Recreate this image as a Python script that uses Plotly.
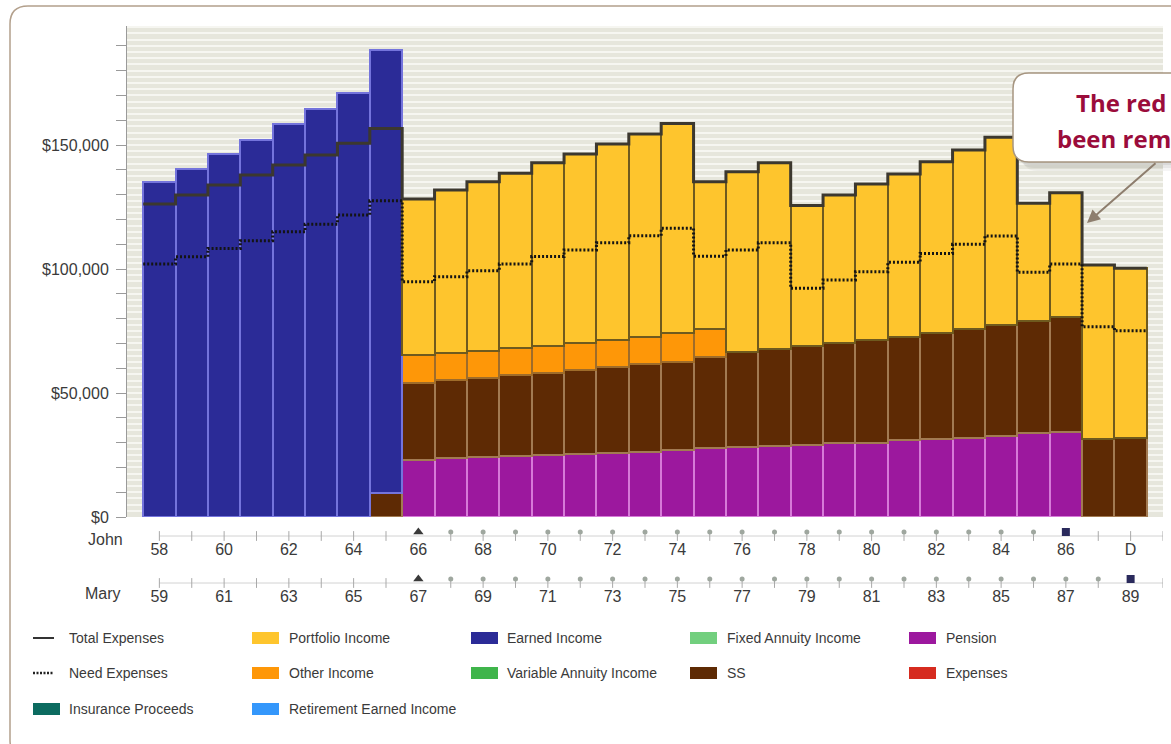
import plotly.graph_objects as go

W, H = 1171, 744

# ---------------------------------------------------------------- data ----
# one bar per plan year; index 0 = John 58 / Mary 59 (values in $ thousands)
john_ages = list(range(58, 89))
n_years = len(john_ages)

earned = [135.0, 140.5, 146.5, 152.0, 158.5, 164.5, 170.8, 178.8] + [None] * 23
pension = [None] * 8 + [23.0, 23.7, 24.1, 24.6, 25.0, 25.4, 25.9, 26.3, 27.0, 27.7,
                        28.1, 28.6, 29.0, 29.7, 30.0, 31.0, 31.5, 32.0, 32.7, 33.7, 34.4,
                        None, None]
ss = [None] * 7 + [9.5] + [31.2, 31.5, 31.8, 32.7, 33.2, 33.9, 34.7, 35.4, 35.6, 36.7,
                           38.6, 39.0, 40.0, 40.3, 41.4, 41.5, 42.6, 43.7, 44.7, 45.5, 46.1,
                           31.3, 31.7]
other = [None] * 8 + [11.1, 10.8, 11.2, 10.7, 10.8, 11.0, 10.8, 11.0, 11.5, 11.3] + [None] * 13
portfolio = [None] * 8 + [62.9, 65.9, 68.1, 70.6, 73.9, 76.1, 79.0, 81.7, 84.6, 59.5,
                          72.5, 75.3, 56.6, 59.8, 62.9, 65.8, 69.2, 72.3, 75.7, 47.3, 50.3,
                          70.3, 68.6]

total_expenses = [126.2, 129.8, 133.9, 137.9, 141.9, 146.0, 150.7, 156.7,
                  128.2, 131.9, 135.2, 138.6, 142.9, 146.4, 150.4, 154.4, 158.7, 135.2,
                  139.2, 142.9, 125.6, 129.8, 134.3, 138.3, 143.3, 148.0, 153.1, 126.5,
                  130.8, 101.6, 100.3]
need_expenses = [102.0, 104.9, 108.3, 111.4, 115.0, 118.1, 121.8, 127.5,
                 94.9, 96.9, 99.3, 102.0, 105.0, 107.7, 110.6, 113.4, 116.4, 105.2,
                 107.7, 110.6, 92.2, 95.6, 98.9, 102.7, 106.3, 110.0, 113.3, 98.7,
                 102.0, 76.7, 75.1]

y_tick_values = [0, 50, 100, 150]
y_tick_text = ["$0", "$50,000", "$100,000", "$150,000"]

# age rows under the chart (labels every other year)
john_labels = [str(a) for a in range(58, 87, 2)] + ["D"]
mary_labels = [str(a) for a in range(59, 90, 2)]
# timeline markers per slot: plain tick, retirement, yearly pin, end of plan
john_marks = ["tick"] * 8 + ["start"] + ["pin"] * 19 + ["end"] + ["tick"] * 3
mary_marks = ["tick"] * 8 + ["start"] + ["pin"] * 21 + ["end"] + ["tick"]

# ------------------------------------------------------------- colours ----
C_PORT, C_EARN, C_FIXED, C_PENS = "#fec52d", "#2b2b97", "#72cf7e", "#9c189e"
C_OTHER, C_VAR, C_SS, C_EXP = "#fe9708", "#3fb54b", "#5e2a04", "#d62b1f"
C_INS, C_RET = "#0c6b60", "#3497fb"
TXT = "#3a3a3a"
FONT = "Liberation Sans"


def px(x):
    return x / W


def py(y):
    return 1 - y / H


x_idx = list(range(n_years))

fig = go.Figure()

stack = [
    ("Pension", pension, C_PENS, "#d67ad8"),
    ("SS", ss, C_SS, "#a27a52"),
    ("Other Income", other, C_OTHER, "#9f6c2a"),
    ("Earned Income", earned, C_EARN, "#7474dc"),
    ("Portfolio Income", portfolio, C_PORT, "#6f5a1e"),
]
for name, vals, col, edge in stack:
    fig.add_trace(go.Bar(
        x=x_idx, y=vals, name=name, width=1.0,
        marker=dict(color=col, line=dict(color=edge, width=2)),
        showlegend=False, hoverinfo="skip",
    ))

# expense lines as steps across each bar
x_steps = [i - 0.5 for i in x_idx] + [n_years - 0.5]
fig.add_trace(go.Scatter(
    x=x_steps, y=total_expenses + [total_expenses[-1]], mode="lines",
    line=dict(color="#3c382f", width=3, shape="hv"),
    showlegend=False, hoverinfo="skip",
))
fig.add_trace(go.Scatter(
    x=x_steps, y=need_expenses + [need_expenses[-1]], mode="lines",
    line=dict(color="#141414", width=3, shape="hv", dash="2px,2px"),
    showlegend=False, hoverinfo="skip",
))

# ------------------------------------------------------ age timelines ----
rows = [
    (john_marks, john_labels, 76, 61),
    (mary_marks, mary_labels, 29, 14),
]
for marks, labels, line_lvl, label_lvl in rows:
    slots = list(range(len(marks)))
    fig.add_trace(go.Scatter(
        x=[slots[0], slots[-1]], y=[line_lvl, line_lvl], mode="lines",
        line=dict(color="#d2d2d2", width=1), xaxis="x2", yaxis="y2",
        showlegend=False, hoverinfo="skip",
    ))
    ticks = [i for i, m in enumerate(marks) if m == "tick"]
    pins = [i for i, m in enumerate(marks) if m == "pin"]
    starts = [i for i, m in enumerate(marks) if m == "start"]
    ends = [i for i, m in enumerate(marks) if m == "end"]
    fig.add_trace(go.Scatter(
        x=ticks + pins, y=[line_lvl] * (len(ticks) + len(pins)), mode="markers",
        marker=dict(symbol="line-ns", size=7, line=dict(color="#a9a9a9", width=1)),
        xaxis="x2", yaxis="y2", showlegend=False, hoverinfo="skip",
    ))
    fig.add_trace(go.Scatter(
        x=pins, y=[line_lvl + 4] * len(pins), mode="markers",
        marker=dict(symbol="circle", size=5, color="#9fa79f"),
        xaxis="x2", yaxis="y2", showlegend=False, hoverinfo="skip",
    ))
    fig.add_trace(go.Scatter(
        x=starts, y=[line_lvl + 4] * len(starts), mode="markers",
        marker=dict(symbol="triangle-up", size=9, color="#3a3a3a"),
        xaxis="x2", yaxis="y2", showlegend=False, hoverinfo="skip",
    ))
    fig.add_trace(go.Scatter(
        x=ends, y=[line_lvl + 4] * len(ends), mode="markers",
        marker=dict(symbol="square", size=8, color="#2a2a5c"),
        xaxis="x2", yaxis="y2", showlegend=False, hoverinfo="skip",
    ))
    fig.add_trace(go.Scatter(
        x=list(range(0, 2 * len(labels), 2)), y=[label_lvl] * len(labels),
        text=labels, mode="text", textfont=dict(family=FONT, size=16, color=TXT),
        xaxis="x2", yaxis="y2", showlegend=False, hoverinfo="skip", cliponaxis=False,
    ))

# ------------------------------------------------------------- layout ----
fig.update_layout(
    width=W, height=H, margin=dict(l=0, r=0, t=0, b=0),
    paper_bgcolor="white", plot_bgcolor="rgba(0,0,0,0)",
    barmode="stack", bargap=0,
    font=dict(family=FONT, size=16, color=TXT),
    showlegend=False,
    xaxis=dict(domain=[px(127), px(1163)], range=[-1, n_years], showticklabels=False,
               showgrid=False, zeroline=False, ticks="", showline=False, fixedrange=True),
    yaxis=dict(domain=[py(517), py(26)], range=[0, 198], tickmode="array",
               tickvals=list(range(0, 200, 10)),
               ticktext=[y_tick_text[y_tick_values.index(v)] if v in y_tick_values else ""
                         for v in range(0, 200, 10)],
               ticks="outside", ticklen=10, tickcolor="#9a9a9a", ticklabelstandoff=4,
               showline=True, linecolor="#9a9a9a", linewidth=1,
               showgrid=True, gridcolor="#f6f6f1", gridwidth=2, zeroline=False,
               minor=dict(tickmode="linear", tick0=0, dtick=2.5, showgrid=True,
                          gridcolor="#f6f6f1", gridwidth=2, ticks=""),
               tickfont=dict(size=16, color=TXT), automargin=False),
    xaxis2=dict(domain=[px(127), px(1163)], matches="x", anchor="y2", visible=False),
    yaxis2=dict(domain=[py(612), py(522)], range=[0, 90], anchor="x2", visible=False),
)

shapes = []
annotations = []

# beige plotting background, under the striped grid
shapes.append(dict(type="rect", xref="x domain", yref="y domain", x0=0, x1=1, y0=0, y1=1,
                   fillcolor="#e6e6dc", line=dict(width=0), layer="below"))

# outer rounded frame
fx0, fy0, fx1, fy1, fr = 10, 6, 1190, 758, 18
shapes.append(dict(
    type="path", xref="paper", yref="paper", layer="above",
    path=(f"M {px(fx0 + fr)},{py(fy0)} L {px(fx1)},{py(fy0)} L {px(fx1)},{py(fy1)} "
          f"L {px(fx0 + fr)},{py(fy1)} Q {px(fx0)},{py(fy1)} {px(fx0)},{py(fy1 - fr)} "
          f"L {px(fx0)},{py(fy0 + fr)} Q {px(fx0)},{py(fy0)} {px(fx0 + fr)},{py(fy0)} Z"),
    line=dict(color="#b3a08c", width=1.5),
))


def rounded_box(x0, y0, x1, y1, r):
    return (f"M {px(x0 + r)},{py(y0)} L {px(x1)},{py(y0)} L {px(x1)},{py(y1)} "
            f"L {px(x0 + r)},{py(y1)} Q {px(x0)},{py(y1)} {px(x0)},{py(y1 - r)} "
            f"L {px(x0)},{py(y0 + r)} Q {px(x0)},{py(y0)} {px(x0 + r)},{py(y0)} Z")


# callout: soft shadow then white box
for off, alpha in [(9, 0.05), (6, 0.07), (3, 0.08)]:
    shapes.append(dict(type="path", xref="paper", yref="paper", layer="above",
                       path=rounded_box(1013 + off, 73 + off, 1200, 162 + off, 16),
                       fillcolor=f"rgba(60,60,60,{alpha})", line=dict(width=0)))
shapes.append(dict(type="path", xref="paper", yref="paper", layer="above",
                   path=rounded_box(1013, 73, 1200, 162, 16),
                   fillcolor="white", line=dict(color="#a69580", width=1.5)))

annotations.append(dict(
    x=px(1087), y=py(223), xref="paper", yref="paper", text="",
    showarrow=True, ax=70, ay=-61, arrowhead=2, arrowsize=1.3, arrowwidth=2,
    arrowcolor="#8e7e6e",
))
for text, x0, yc in [("The red bars have", 1074, 103), ("been removed", 1055, 139)]:
    annotations.append(dict(
        x=px(x0), y=py(yc), xref="paper", yref="paper", text=f"<b>{text}</b>",
        showarrow=False, xanchor="left", yanchor="middle",
        font=dict(family="Open Sans", size=24, color="#9b0c3b"),
    ))

# person labels for the age rows
for name, xc, yc in [("John", 105, 539), ("Mary", 103, 593)]:
    annotations.append(dict(x=px(xc), y=py(yc), xref="paper", yref="paper", text=name,
                            showarrow=False, xanchor="center", yanchor="middle",
                            font=dict(family=FONT, size=16, color=TXT)))

# legend grid
legend_rows = [
    [("Total Expenses", "solid"), ("Portfolio Income", C_PORT), ("Earned Income", C_EARN),
     ("Fixed Annuity Income", C_FIXED), ("Pension", C_PENS)],
    [("Need Expenses", "dotted"), ("Other Income", C_OTHER),
     ("Variable Annuity Income", C_VAR), ("SS", C_SS), ("Expenses", C_EXP)],
    [("Insurance Proceeds", C_INS), ("Retirement Earned Income", C_RET)],
]
col_swatch = [33, 252, 471, 690, 909]
col_text = [67, 287, 505, 725, 944]
row_y = [638, 673, 709]
for r, items in enumerate(legend_rows):
    yc = row_y[r]
    for c, (label, style) in enumerate(items):
        sx = col_swatch[c]
        if style == "solid":
            shapes.append(dict(type="line", xref="paper", yref="paper",
                               x0=px(sx), x1=px(sx + 21), y0=py(yc), y1=py(yc),
                               line=dict(color="#333333", width=2)))
        elif style == "dotted":
            shapes.append(dict(type="line", xref="paper", yref="paper",
                               x0=px(sx), x1=px(sx + 21), y0=py(yc), y1=py(yc),
                               line=dict(color="#222222", width=2.5, dash="2px,1.5px")))
        else:
            shapes.append(dict(type="rect", xref="paper", yref="paper",
                               x0=px(sx), x1=px(sx + 27), y0=py(yc + 6), y1=py(yc - 6),
                               fillcolor=style, line=dict(width=0)))
        annotations.append(dict(x=px(col_text[c]), y=py(yc), xref="paper", yref="paper",
                                text=label, showarrow=False, xanchor="left",
                                yanchor="middle",
                                font=dict(family=FONT, size=14, color=TXT)))

fig.update_layout(shapes=shapes, annotations=annotations)

fig.write_html("out.html")
